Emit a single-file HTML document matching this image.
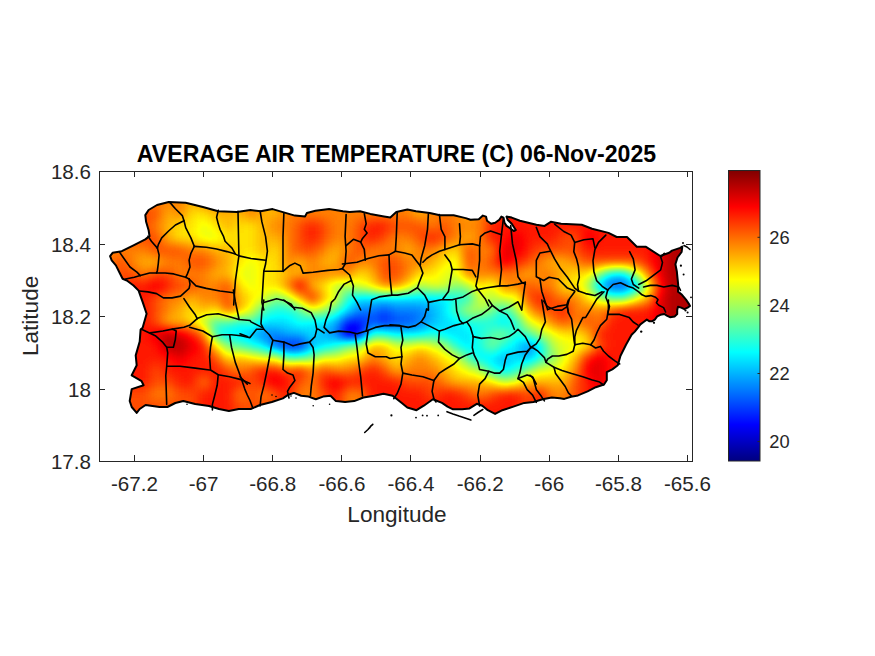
<!DOCTYPE html>
<html><head><meta charset="utf-8"><style>
html,body{margin:0;padding:0;background:#fff;width:875px;height:656px;overflow:hidden}
svg{position:absolute;left:0;top:0;font-family:"Liberation Sans",sans-serif;fill:#262626}
</style></head><body>
<svg width="875" height="656" viewBox="0 0 875 656">
<defs>
<clipPath id="isl"><path d="M145.3,215.1 L148.6,210.0 L157.0,205.0 L168.7,202.0 L185.7,202.7 L202.9,207.0 L218.3,211.3 L237.0,212.0 L250.3,210.1 L260.6,211.3 L272.6,209.1 L282.9,212.1 L294.9,215.6 L305.1,216.4 L306.9,213.0 L315.4,210.8 L329.1,209.1 L342.9,211.3 L349.7,212.1 L360.0,211.3 L370.3,213.9 L384.0,216.4 L390.3,217.6 L396.3,212.1 L407.4,209.6 L416.0,211.3 L429.7,213.0 L440.0,215.2 L453.7,215.2 L465.7,218.1 L470.5,219.7 L478.8,219.3 L482.9,215.6 L486.0,216.6 L487.0,220.7 L491.1,223.8 L495.2,222.8 L499.3,219.7 L501.4,216.6 L503.5,217.6 L504.5,222.8 L506.5,225.9 L509.6,227.9 L513.7,231.0 L515.8,230.0 L511.7,223.8 L507.6,219.7 L506.5,216.6 L511.7,217.6 L519.9,220.7 L528.1,222.8 L536.4,224.8 L544.6,225.9 L550.8,221.8 L561.1,223.7 L581.7,224.7 L592.0,228.8 L608.5,232.9 L616.7,237.0 L627.0,237.0 L636.8,246.8 L646.0,246.8 L660.3,256.0 L669.2,252.7 L672.0,250.6 L680.2,247.9 L682.3,246.5 L681.6,252.0 L677.5,257.5 L675.4,264.3 L676.8,271.2 L677.5,278.1 L678.2,284.9 L678.0,291.6 L682.0,294.8 L686.0,299.6 L689.2,304.4 L690.0,306.0 L687.6,307.6 L684.4,309.2 L681.2,307.6 L678.0,306.8 L677.2,310.0 L677.2,314.0 L674.8,316.4 L670.0,317.2 L666.8,315.6 L664.4,314.0 L660.4,314.8 L657.2,316.4 L654.8,319.6 L652.4,321.2 L649.2,321.2 L646.8,319.6 L643.6,322.0 L640.4,324.4 L638.0,327.6 L634.8,331.6 L631.6,334.8 L626.0,344.7 L620.5,355.7 L617.8,365.3 L612.3,369.4 L606.8,372.1 L606.8,380.3 L604.0,384.5 L595.8,387.2 L587.6,391.3 L578.0,395.4 L571.1,396.8 L564.3,398.9 L560.0,398.3 L551.8,397.4 L542.6,399.3 L533.5,402.0 L524.3,402.9 L513.4,406.6 L502.4,410.2 L495.1,413.9 L487.8,410.2 L482.3,405.7 L476.8,403.8 L469.5,408.4 L462.2,409.3 L453.0,409.3 L447.5,406.6 L442.0,402.9 L432.9,399.3 L423.8,405.7 L416.5,410.2 L407.3,407.5 L401.8,403.0 L392.6,395.7 L383.5,393.8 L374.3,395.7 L363.4,397.5 L354.2,401.1 L345.1,402.0 L335.9,401.1 L330.5,395.7 L323.1,396.6 L315.8,399.3 L308.5,396.6 L301.2,395.7 L293.9,392.9 L288.4,394.7 L282.9,398.4 L271.9,402.0 L260.0,405.0 L250.7,409.0 L238.8,409.0 L228.9,411.0 L219.0,409.0 L209.0,406.0 L195.2,404.0 L183.3,401.0 L175.3,403.0 L167.4,407.0 L159.5,407.0 L145.6,405.0 L139.7,409.0 L136.7,412.9 L131.7,407.0 L129.7,401.0 L131.7,389.1 L143.6,385.2 L141.6,381.2 L131.7,375.3 L136.7,365.3 L135.7,355.4 L139.7,341.5 L140.6,329.7 L142.6,327.7 L146.6,313.8 L142.6,301.9 L138.6,290.6 L133.5,285.5 L126.8,280.5 L122.6,278.8 L120.1,273.8 L115.9,265.4 L111.7,260.4 L110.1,256.2 L112.6,252.8 L121.8,251.2 L133.5,245.3 L145.3,239.4 L149.5,236.1 L148.6,230.2 L146.1,221.8 Z"/></clipPath>
<filter id="jet" x="0" y="0" width="875" height="656" filterUnits="userSpaceOnUse" color-interpolation-filters="sRGB">
<feGaussianBlur stdDeviation="6"/>
<feComponentTransfer><feFuncR type="table" tableValues="0.000 0.000 0.000 0.000 0.000 0.000 0.000 0.000 0.000 0.000 0.000 0.000 0.000 0.000 0.000 0.000 0.000 0.000 0.000 0.000 0.000 0.000 0.000 0.000 0.000 0.000 0.000 0.000 0.000 0.000 0.000 0.000 0.000 0.000 0.000 0.000 0.000 0.000 0.000 0.000 0.000 0.000 0.000 0.000 0.000 0.000 0.000 0.000 0.000 0.000 0.000 0.000 0.000 0.000 0.000 0.000 0.000 0.000 0.000 0.000 0.000 0.000 0.000 0.000 0.000 0.000 0.000 0.000 0.000 0.000 0.000 0.000 0.000 0.000 0.000 0.000 0.000 0.000 0.000 0.000 0.000 0.000 0.000 0.000 0.000 0.000 0.000 0.000 0.000 0.000 0.000 0.000 0.000 0.000 0.000 0.000 0.006 0.022 0.037 0.053 0.069 0.084 0.100 0.116 0.131 0.147 0.163 0.178 0.194 0.210 0.225 0.241 0.257 0.273 0.288 0.304 0.320 0.335 0.351 0.367 0.382 0.398 0.414 0.429 0.445 0.461 0.476 0.492 0.508 0.524 0.539 0.555 0.571 0.586 0.602 0.618 0.633 0.649 0.665 0.680 0.696 0.712 0.727 0.743 0.759 0.775 0.790 0.806 0.822 0.837 0.853 0.869 0.884 0.900 0.916 0.931 0.947 0.963 0.978 0.994 1.000 1.000 1.000 1.000 1.000 1.000 1.000 1.000 1.000 1.000 1.000 1.000 1.000 1.000 1.000 1.000 1.000 1.000 1.000 1.000 1.000 1.000 1.000 1.000 1.000 1.000 1.000 1.000 1.000 1.000 1.000 1.000 1.000 1.000 1.000 1.000 1.000 1.000 1.000 1.000 1.000 1.000 1.000 1.000 1.000 1.000 1.000 1.000 1.000 1.000 1.000 1.000 1.000 1.000 1.000 1.000 1.000 1.000 1.000 1.000 1.000 1.000 1.000 1.000 0.986 0.971 0.955 0.939 0.924 0.908 0.892 0.876 0.861 0.845 0.829 0.814 0.798 0.782 0.767 0.751 0.735 0.720 0.704 0.688 0.673 0.657 0.641 0.625 0.610 0.594 0.578 0.563 0.547 0.531 0.516 0.500"/><feFuncG type="table" tableValues="0.000 0.000 0.000 0.000 0.000 0.000 0.000 0.000 0.000 0.000 0.000 0.000 0.000 0.000 0.000 0.000 0.000 0.000 0.000 0.000 0.000 0.000 0.000 0.000 0.000 0.000 0.000 0.000 0.000 0.000 0.000 0.000 0.002 0.018 0.033 0.049 0.065 0.080 0.096 0.112 0.127 0.143 0.159 0.175 0.190 0.206 0.222 0.237 0.253 0.269 0.284 0.300 0.316 0.331 0.347 0.363 0.378 0.394 0.410 0.425 0.441 0.457 0.473 0.488 0.504 0.520 0.535 0.551 0.567 0.582 0.598 0.614 0.629 0.645 0.661 0.676 0.692 0.708 0.724 0.739 0.755 0.771 0.786 0.802 0.818 0.833 0.849 0.865 0.880 0.896 0.912 0.927 0.943 0.959 0.975 0.990 1.000 1.000 1.000 1.000 1.000 1.000 1.000 1.000 1.000 1.000 1.000 1.000 1.000 1.000 1.000 1.000 1.000 1.000 1.000 1.000 1.000 1.000 1.000 1.000 1.000 1.000 1.000 1.000 1.000 1.000 1.000 1.000 1.000 1.000 1.000 1.000 1.000 1.000 1.000 1.000 1.000 1.000 1.000 1.000 1.000 1.000 1.000 1.000 1.000 1.000 1.000 1.000 1.000 1.000 1.000 1.000 1.000 1.000 1.000 1.000 1.000 1.000 1.000 1.000 0.990 0.975 0.959 0.943 0.927 0.912 0.896 0.880 0.865 0.849 0.833 0.818 0.802 0.786 0.771 0.755 0.739 0.724 0.708 0.692 0.676 0.661 0.645 0.629 0.614 0.598 0.582 0.567 0.551 0.535 0.520 0.504 0.488 0.473 0.457 0.441 0.425 0.410 0.394 0.378 0.363 0.347 0.331 0.316 0.300 0.284 0.269 0.253 0.237 0.222 0.206 0.190 0.175 0.159 0.143 0.127 0.112 0.096 0.080 0.065 0.049 0.033 0.018 0.002 0.000 0.000 0.000 0.000 0.000 0.000 0.000 0.000 0.000 0.000 0.000 0.000 0.000 0.000 0.000 0.000 0.000 0.000 0.000 0.000 0.000 0.000 0.000 0.000 0.000 0.000 0.000 0.000 0.000 0.000 0.000 0.000"/><feFuncB type="table" tableValues="0.500 0.516 0.531 0.547 0.563 0.578 0.594 0.610 0.625 0.641 0.657 0.673 0.688 0.704 0.720 0.735 0.751 0.767 0.782 0.798 0.814 0.829 0.845 0.861 0.876 0.892 0.908 0.924 0.939 0.955 0.971 0.986 1.000 1.000 1.000 1.000 1.000 1.000 1.000 1.000 1.000 1.000 1.000 1.000 1.000 1.000 1.000 1.000 1.000 1.000 1.000 1.000 1.000 1.000 1.000 1.000 1.000 1.000 1.000 1.000 1.000 1.000 1.000 1.000 1.000 1.000 1.000 1.000 1.000 1.000 1.000 1.000 1.000 1.000 1.000 1.000 1.000 1.000 1.000 1.000 1.000 1.000 1.000 1.000 1.000 1.000 1.000 1.000 1.000 1.000 1.000 1.000 1.000 1.000 1.000 1.000 0.994 0.978 0.963 0.947 0.931 0.916 0.900 0.884 0.869 0.853 0.837 0.822 0.806 0.790 0.775 0.759 0.743 0.727 0.712 0.696 0.680 0.665 0.649 0.633 0.618 0.602 0.586 0.571 0.555 0.539 0.524 0.508 0.492 0.476 0.461 0.445 0.429 0.414 0.398 0.382 0.367 0.351 0.335 0.320 0.304 0.288 0.273 0.257 0.241 0.225 0.210 0.194 0.178 0.163 0.147 0.131 0.116 0.100 0.084 0.069 0.053 0.037 0.022 0.006 0.000 0.000 0.000 0.000 0.000 0.000 0.000 0.000 0.000 0.000 0.000 0.000 0.000 0.000 0.000 0.000 0.000 0.000 0.000 0.000 0.000 0.000 0.000 0.000 0.000 0.000 0.000 0.000 0.000 0.000 0.000 0.000 0.000 0.000 0.000 0.000 0.000 0.000 0.000 0.000 0.000 0.000 0.000 0.000 0.000 0.000 0.000 0.000 0.000 0.000 0.000 0.000 0.000 0.000 0.000 0.000 0.000 0.000 0.000 0.000 0.000 0.000 0.000 0.000 0.000 0.000 0.000 0.000 0.000 0.000 0.000 0.000 0.000 0.000 0.000 0.000 0.000 0.000 0.000 0.000 0.000 0.000 0.000 0.000 0.000 0.000 0.000 0.000 0.000 0.000 0.000 0.000 0.000 0.000 0.000 0.000"/><feFuncA type="identity"/></feComponentTransfer>
</filter>
<linearGradient id="cb" x1="0" y1="0" x2="0" y2="1"><stop offset="0.0000" stop-color="rgb(128,0,0)"/><stop offset="0.0156" stop-color="rgb(143,0,0)"/><stop offset="0.0312" stop-color="rgb(159,0,0)"/><stop offset="0.0469" stop-color="rgb(175,0,0)"/><stop offset="0.0625" stop-color="rgb(191,0,0)"/><stop offset="0.0781" stop-color="rgb(207,0,0)"/><stop offset="0.0938" stop-color="rgb(223,0,0)"/><stop offset="0.1094" stop-color="rgb(239,0,0)"/><stop offset="0.1250" stop-color="rgb(255,0,0)"/><stop offset="0.1406" stop-color="rgb(255,16,0)"/><stop offset="0.1562" stop-color="rgb(255,32,0)"/><stop offset="0.1719" stop-color="rgb(255,48,0)"/><stop offset="0.1875" stop-color="rgb(255,64,0)"/><stop offset="0.2031" stop-color="rgb(255,80,0)"/><stop offset="0.2188" stop-color="rgb(255,96,0)"/><stop offset="0.2344" stop-color="rgb(255,112,0)"/><stop offset="0.2500" stop-color="rgb(255,128,0)"/><stop offset="0.2656" stop-color="rgb(255,143,0)"/><stop offset="0.2812" stop-color="rgb(255,159,0)"/><stop offset="0.2969" stop-color="rgb(255,175,0)"/><stop offset="0.3125" stop-color="rgb(255,191,0)"/><stop offset="0.3281" stop-color="rgb(255,207,0)"/><stop offset="0.3438" stop-color="rgb(255,223,0)"/><stop offset="0.3594" stop-color="rgb(255,239,0)"/><stop offset="0.3750" stop-color="rgb(255,255,0)"/><stop offset="0.3906" stop-color="rgb(239,255,16)"/><stop offset="0.4062" stop-color="rgb(223,255,32)"/><stop offset="0.4219" stop-color="rgb(207,255,48)"/><stop offset="0.4375" stop-color="rgb(191,255,64)"/><stop offset="0.4531" stop-color="rgb(175,255,80)"/><stop offset="0.4688" stop-color="rgb(159,255,96)"/><stop offset="0.4844" stop-color="rgb(143,255,112)"/><stop offset="0.5000" stop-color="rgb(128,255,128)"/><stop offset="0.5156" stop-color="rgb(112,255,143)"/><stop offset="0.5312" stop-color="rgb(96,255,159)"/><stop offset="0.5469" stop-color="rgb(80,255,175)"/><stop offset="0.5625" stop-color="rgb(64,255,191)"/><stop offset="0.5781" stop-color="rgb(48,255,207)"/><stop offset="0.5938" stop-color="rgb(32,255,223)"/><stop offset="0.6094" stop-color="rgb(16,255,239)"/><stop offset="0.6250" stop-color="rgb(0,255,255)"/><stop offset="0.6406" stop-color="rgb(0,239,255)"/><stop offset="0.6562" stop-color="rgb(0,223,255)"/><stop offset="0.6719" stop-color="rgb(0,207,255)"/><stop offset="0.6875" stop-color="rgb(0,191,255)"/><stop offset="0.7031" stop-color="rgb(0,175,255)"/><stop offset="0.7188" stop-color="rgb(0,159,255)"/><stop offset="0.7344" stop-color="rgb(0,143,255)"/><stop offset="0.7500" stop-color="rgb(0,128,255)"/><stop offset="0.7656" stop-color="rgb(0,112,255)"/><stop offset="0.7812" stop-color="rgb(0,96,255)"/><stop offset="0.7969" stop-color="rgb(0,80,255)"/><stop offset="0.8125" stop-color="rgb(0,64,255)"/><stop offset="0.8281" stop-color="rgb(0,48,255)"/><stop offset="0.8438" stop-color="rgb(0,32,255)"/><stop offset="0.8594" stop-color="rgb(0,16,255)"/><stop offset="0.8750" stop-color="rgb(0,0,255)"/><stop offset="0.8906" stop-color="rgb(0,0,239)"/><stop offset="0.9062" stop-color="rgb(0,0,223)"/><stop offset="0.9219" stop-color="rgb(0,0,207)"/><stop offset="0.9375" stop-color="rgb(0,0,191)"/><stop offset="0.9531" stop-color="rgb(0,0,175)"/><stop offset="0.9688" stop-color="rgb(0,0,159)"/><stop offset="0.9844" stop-color="rgb(0,0,143)"/><stop offset="1.0000" stop-color="rgb(0,0,128)"/></linearGradient>
</defs>
<g clip-path="url(#isl)"><g filter="url(#jet)"><rect x="78" y="172" width="60" height="12" fill="rgb(204,204,204)"/><rect x="138" y="172" width="48" height="12" fill="rgb(191,191,191)"/><rect x="186" y="172" width="12" height="12" fill="rgb(178,178,178)"/><rect x="198" y="172" width="36" height="12" fill="rgb(191,191,191)"/><rect x="234" y="172" width="12" height="12" fill="rgb(178,178,178)"/><rect x="246" y="172" width="12" height="12" fill="rgb(191,191,191)"/><rect x="258" y="172" width="24" height="12" fill="rgb(178,178,178)"/><rect x="282" y="172" width="132" height="12" fill="rgb(191,191,191)"/><rect x="414" y="172" width="12" height="12" fill="rgb(178,178,178)"/><rect x="426" y="172" width="36" height="12" fill="rgb(191,191,191)"/><rect x="462" y="172" width="12" height="12" fill="rgb(178,178,178)"/><rect x="474" y="172" width="12" height="12" fill="rgb(191,191,191)"/><rect x="486" y="172" width="12" height="12" fill="rgb(204,204,204)"/><rect x="498" y="172" width="168" height="12" fill="rgb(217,217,217)"/><rect x="666" y="172" width="60" height="12" fill="rgb(242,242,242)"/><rect x="78" y="184" width="60" height="12" fill="rgb(204,204,204)"/><rect x="138" y="184" width="48" height="12" fill="rgb(191,191,191)"/><rect x="186" y="184" width="12" height="12" fill="rgb(178,178,178)"/><rect x="198" y="184" width="36" height="12" fill="rgb(191,191,191)"/><rect x="234" y="184" width="12" height="12" fill="rgb(178,178,178)"/><rect x="246" y="184" width="12" height="12" fill="rgb(191,191,191)"/><rect x="258" y="184" width="24" height="12" fill="rgb(178,178,178)"/><rect x="282" y="184" width="132" height="12" fill="rgb(191,191,191)"/><rect x="414" y="184" width="12" height="12" fill="rgb(178,178,178)"/><rect x="426" y="184" width="36" height="12" fill="rgb(191,191,191)"/><rect x="462" y="184" width="12" height="12" fill="rgb(178,178,178)"/><rect x="474" y="184" width="12" height="12" fill="rgb(191,191,191)"/><rect x="486" y="184" width="12" height="12" fill="rgb(204,204,204)"/><rect x="498" y="184" width="168" height="12" fill="rgb(217,217,217)"/><rect x="666" y="184" width="60" height="12" fill="rgb(242,242,242)"/><rect x="78" y="196" width="60" height="12" fill="rgb(204,204,204)"/><rect x="138" y="196" width="48" height="12" fill="rgb(191,191,191)"/><rect x="186" y="196" width="12" height="12" fill="rgb(178,178,178)"/><rect x="198" y="196" width="36" height="12" fill="rgb(191,191,191)"/><rect x="234" y="196" width="12" height="12" fill="rgb(178,178,178)"/><rect x="246" y="196" width="12" height="12" fill="rgb(191,191,191)"/><rect x="258" y="196" width="24" height="12" fill="rgb(178,178,178)"/><rect x="282" y="196" width="132" height="12" fill="rgb(191,191,191)"/><rect x="414" y="196" width="12" height="12" fill="rgb(178,178,178)"/><rect x="426" y="196" width="36" height="12" fill="rgb(191,191,191)"/><rect x="462" y="196" width="12" height="12" fill="rgb(178,178,178)"/><rect x="474" y="196" width="12" height="12" fill="rgb(191,191,191)"/><rect x="486" y="196" width="12" height="12" fill="rgb(204,204,204)"/><rect x="498" y="196" width="168" height="12" fill="rgb(217,217,217)"/><rect x="666" y="196" width="60" height="12" fill="rgb(242,242,242)"/><rect x="78" y="208" width="84" height="12" fill="rgb(204,204,204)"/><rect x="162" y="208" width="12" height="12" fill="rgb(178,178,178)"/><rect x="174" y="208" width="12" height="12" fill="rgb(191,191,191)"/><rect x="186" y="208" width="24" height="12" fill="rgb(166,166,166)"/><rect x="210" y="208" width="36" height="12" fill="rgb(178,178,178)"/><rect x="246" y="208" width="12" height="12" fill="rgb(191,191,191)"/><rect x="258" y="208" width="24" height="12" fill="rgb(178,178,178)"/><rect x="282" y="208" width="132" height="12" fill="rgb(191,191,191)"/><rect x="414" y="208" width="12" height="12" fill="rgb(178,178,178)"/><rect x="426" y="208" width="36" height="12" fill="rgb(191,191,191)"/><rect x="462" y="208" width="12" height="12" fill="rgb(178,178,178)"/><rect x="474" y="208" width="12" height="12" fill="rgb(191,191,191)"/><rect x="486" y="208" width="12" height="12" fill="rgb(204,204,204)"/><rect x="498" y="208" width="168" height="12" fill="rgb(217,217,217)"/><rect x="666" y="208" width="60" height="12" fill="rgb(242,242,242)"/><rect x="78" y="220" width="36" height="12" fill="rgb(191,191,191)"/><rect x="114" y="220" width="36" height="12" fill="rgb(204,204,204)"/><rect x="150" y="220" width="12" height="12" fill="rgb(191,191,191)"/><rect x="162" y="220" width="12" height="12" fill="rgb(178,178,178)"/><rect x="174" y="220" width="24" height="12" fill="rgb(166,166,166)"/><rect x="198" y="220" width="12" height="12" fill="rgb(153,153,153)"/><rect x="210" y="220" width="12" height="12" fill="rgb(166,166,166)"/><rect x="222" y="220" width="12" height="12" fill="rgb(178,178,178)"/><rect x="234" y="220" width="24" height="12" fill="rgb(166,166,166)"/><rect x="258" y="220" width="12" height="12" fill="rgb(178,178,178)"/><rect x="270" y="220" width="24" height="12" fill="rgb(191,191,191)"/><rect x="294" y="220" width="12" height="12" fill="rgb(204,204,204)"/><rect x="306" y="220" width="12" height="12" fill="rgb(217,217,217)"/><rect x="318" y="220" width="12" height="12" fill="rgb(204,204,204)"/><rect x="330" y="220" width="24" height="12" fill="rgb(191,191,191)"/><rect x="354" y="220" width="12" height="12" fill="rgb(204,204,204)"/><rect x="366" y="220" width="24" height="12" fill="rgb(217,217,217)"/><rect x="390" y="220" width="36" height="12" fill="rgb(204,204,204)"/><rect x="426" y="220" width="12" height="12" fill="rgb(191,191,191)"/><rect x="438" y="220" width="12" height="12" fill="rgb(204,204,204)"/><rect x="450" y="220" width="36" height="12" fill="rgb(191,191,191)"/><rect x="486" y="220" width="168" height="12" fill="rgb(217,217,217)"/><rect x="654" y="220" width="12" height="12" fill="rgb(230,230,230)"/><rect x="666" y="220" width="60" height="12" fill="rgb(242,242,242)"/><rect x="78" y="232" width="48" height="12" fill="rgb(191,191,191)"/><rect x="126" y="232" width="36" height="12" fill="rgb(204,204,204)"/><rect x="162" y="232" width="12" height="12" fill="rgb(178,178,178)"/><rect x="174" y="232" width="24" height="12" fill="rgb(166,166,166)"/><rect x="198" y="232" width="24" height="12" fill="rgb(153,153,153)"/><rect x="222" y="232" width="36" height="12" fill="rgb(166,166,166)"/><rect x="258" y="232" width="24" height="12" fill="rgb(178,178,178)"/><rect x="282" y="232" width="12" height="12" fill="rgb(191,191,191)"/><rect x="294" y="232" width="12" height="12" fill="rgb(204,204,204)"/><rect x="306" y="232" width="12" height="12" fill="rgb(217,217,217)"/><rect x="318" y="232" width="12" height="12" fill="rgb(204,204,204)"/><rect x="330" y="232" width="24" height="12" fill="rgb(191,191,191)"/><rect x="354" y="232" width="12" height="12" fill="rgb(204,204,204)"/><rect x="366" y="232" width="12" height="12" fill="rgb(217,217,217)"/><rect x="378" y="232" width="12" height="12" fill="rgb(204,204,204)"/><rect x="390" y="232" width="24" height="12" fill="rgb(191,191,191)"/><rect x="414" y="232" width="12" height="12" fill="rgb(204,204,204)"/><rect x="426" y="232" width="12" height="12" fill="rgb(217,217,217)"/><rect x="438" y="232" width="12" height="12" fill="rgb(204,204,204)"/><rect x="450" y="232" width="12" height="12" fill="rgb(191,191,191)"/><rect x="462" y="232" width="12" height="12" fill="rgb(178,178,178)"/><rect x="474" y="232" width="12" height="12" fill="rgb(191,191,191)"/><rect x="486" y="232" width="24" height="12" fill="rgb(217,217,217)"/><rect x="510" y="232" width="12" height="12" fill="rgb(230,230,230)"/><rect x="522" y="232" width="36" height="12" fill="rgb(217,217,217)"/><rect x="558" y="232" width="24" height="12" fill="rgb(204,204,204)"/><rect x="582" y="232" width="12" height="12" fill="rgb(230,230,230)"/><rect x="594" y="232" width="60" height="12" fill="rgb(217,217,217)"/><rect x="654" y="232" width="12" height="12" fill="rgb(230,230,230)"/><rect x="666" y="232" width="60" height="12" fill="rgb(242,242,242)"/><rect x="78" y="244" width="72" height="12" fill="rgb(191,191,191)"/><rect x="150" y="244" width="36" height="12" fill="rgb(204,204,204)"/><rect x="186" y="244" width="24" height="12" fill="rgb(191,191,191)"/><rect x="210" y="244" width="24" height="12" fill="rgb(178,178,178)"/><rect x="234" y="244" width="24" height="12" fill="rgb(166,166,166)"/><rect x="258" y="244" width="12" height="12" fill="rgb(178,178,178)"/><rect x="270" y="244" width="12" height="12" fill="rgb(166,166,166)"/><rect x="282" y="244" width="12" height="12" fill="rgb(191,191,191)"/><rect x="294" y="244" width="24" height="12" fill="rgb(204,204,204)"/><rect x="318" y="244" width="12" height="12" fill="rgb(191,191,191)"/><rect x="330" y="244" width="12" height="12" fill="rgb(178,178,178)"/><rect x="342" y="244" width="12" height="12" fill="rgb(191,191,191)"/><rect x="354" y="244" width="12" height="12" fill="rgb(204,204,204)"/><rect x="366" y="244" width="36" height="12" fill="rgb(191,191,191)"/><rect x="402" y="244" width="12" height="12" fill="rgb(178,178,178)"/><rect x="414" y="244" width="24" height="12" fill="rgb(191,191,191)"/><rect x="438" y="244" width="12" height="12" fill="rgb(178,178,178)"/><rect x="450" y="244" width="12" height="12" fill="rgb(166,166,166)"/><rect x="462" y="244" width="12" height="12" fill="rgb(204,204,204)"/><rect x="474" y="244" width="24" height="12" fill="rgb(191,191,191)"/><rect x="498" y="244" width="24" height="12" fill="rgb(230,230,230)"/><rect x="522" y="244" width="12" height="12" fill="rgb(217,217,217)"/><rect x="534" y="244" width="48" height="12" fill="rgb(204,204,204)"/><rect x="582" y="244" width="72" height="12" fill="rgb(217,217,217)"/><rect x="654" y="244" width="12" height="12" fill="rgb(230,230,230)"/><rect x="666" y="244" width="60" height="12" fill="rgb(242,242,242)"/><rect x="78" y="256" width="36" height="12" fill="rgb(191,191,191)"/><rect x="114" y="256" width="12" height="12" fill="rgb(204,204,204)"/><rect x="126" y="256" width="12" height="12" fill="rgb(191,191,191)"/><rect x="138" y="256" width="24" height="12" fill="rgb(178,178,178)"/><rect x="162" y="256" width="24" height="12" fill="rgb(191,191,191)"/><rect x="186" y="256" width="24" height="12" fill="rgb(204,204,204)"/><rect x="210" y="256" width="12" height="12" fill="rgb(191,191,191)"/><rect x="222" y="256" width="12" height="12" fill="rgb(178,178,178)"/><rect x="234" y="256" width="12" height="12" fill="rgb(166,166,166)"/><rect x="246" y="256" width="12" height="12" fill="rgb(153,153,153)"/><rect x="258" y="256" width="24" height="12" fill="rgb(166,166,166)"/><rect x="282" y="256" width="12" height="12" fill="rgb(191,191,191)"/><rect x="294" y="256" width="12" height="12" fill="rgb(178,178,178)"/><rect x="306" y="256" width="12" height="12" fill="rgb(191,191,191)"/><rect x="318" y="256" width="24" height="12" fill="rgb(178,178,178)"/><rect x="342" y="256" width="12" height="12" fill="rgb(204,204,204)"/><rect x="354" y="256" width="24" height="12" fill="rgb(191,191,191)"/><rect x="378" y="256" width="24" height="12" fill="rgb(204,204,204)"/><rect x="402" y="256" width="24" height="12" fill="rgb(191,191,191)"/><rect x="426" y="256" width="12" height="12" fill="rgb(178,178,178)"/><rect x="438" y="256" width="12" height="12" fill="rgb(166,166,166)"/><rect x="450" y="256" width="12" height="12" fill="rgb(153,153,153)"/><rect x="462" y="256" width="12" height="12" fill="rgb(204,204,204)"/><rect x="474" y="256" width="12" height="12" fill="rgb(191,191,191)"/><rect x="486" y="256" width="12" height="12" fill="rgb(204,204,204)"/><rect x="498" y="256" width="12" height="12" fill="rgb(230,230,230)"/><rect x="510" y="256" width="12" height="12" fill="rgb(217,217,217)"/><rect x="522" y="256" width="12" height="12" fill="rgb(204,204,204)"/><rect x="534" y="256" width="12" height="12" fill="rgb(191,191,191)"/><rect x="546" y="256" width="24" height="12" fill="rgb(178,178,178)"/><rect x="570" y="256" width="12" height="12" fill="rgb(191,191,191)"/><rect x="582" y="256" width="60" height="12" fill="rgb(204,204,204)"/><rect x="642" y="256" width="12" height="12" fill="rgb(217,217,217)"/><rect x="654" y="256" width="12" height="12" fill="rgb(230,230,230)"/><rect x="666" y="256" width="60" height="12" fill="rgb(242,242,242)"/><rect x="78" y="268" width="36" height="12" fill="rgb(191,191,191)"/><rect x="114" y="268" width="24" height="12" fill="rgb(204,204,204)"/><rect x="138" y="268" width="12" height="12" fill="rgb(191,191,191)"/><rect x="150" y="268" width="24" height="12" fill="rgb(204,204,204)"/><rect x="174" y="268" width="36" height="12" fill="rgb(191,191,191)"/><rect x="210" y="268" width="24" height="12" fill="rgb(178,178,178)"/><rect x="234" y="268" width="24" height="12" fill="rgb(153,153,153)"/><rect x="258" y="268" width="24" height="12" fill="rgb(166,166,166)"/><rect x="282" y="268" width="24" height="12" fill="rgb(178,178,178)"/><rect x="306" y="268" width="48" height="12" fill="rgb(191,191,191)"/><rect x="354" y="268" width="12" height="12" fill="rgb(166,166,166)"/><rect x="366" y="268" width="12" height="12" fill="rgb(178,178,178)"/><rect x="378" y="268" width="24" height="12" fill="rgb(204,204,204)"/><rect x="402" y="268" width="12" height="12" fill="rgb(191,191,191)"/><rect x="414" y="268" width="24" height="12" fill="rgb(166,166,166)"/><rect x="438" y="268" width="24" height="12" fill="rgb(153,153,153)"/><rect x="462" y="268" width="60" height="12" fill="rgb(191,191,191)"/><rect x="522" y="268" width="12" height="12" fill="rgb(178,178,178)"/><rect x="534" y="268" width="24" height="12" fill="rgb(191,191,191)"/><rect x="558" y="268" width="12" height="12" fill="rgb(178,178,178)"/><rect x="570" y="268" width="24" height="12" fill="rgb(166,166,166)"/><rect x="594" y="268" width="12" height="12" fill="rgb(128,128,128)"/><rect x="606" y="268" width="24" height="12" fill="rgb(89,89,89)"/><rect x="630" y="268" width="12" height="12" fill="rgb(140,140,140)"/><rect x="642" y="268" width="12" height="12" fill="rgb(191,191,191)"/><rect x="654" y="268" width="12" height="12" fill="rgb(230,230,230)"/><rect x="666" y="268" width="60" height="12" fill="rgb(242,242,242)"/><rect x="78" y="280" width="48" height="12" fill="rgb(204,204,204)"/><rect x="126" y="280" width="24" height="12" fill="rgb(217,217,217)"/><rect x="150" y="280" width="12" height="12" fill="rgb(230,230,230)"/><rect x="162" y="280" width="12" height="12" fill="rgb(217,217,217)"/><rect x="174" y="280" width="24" height="12" fill="rgb(204,204,204)"/><rect x="198" y="280" width="24" height="12" fill="rgb(191,191,191)"/><rect x="222" y="280" width="12" height="12" fill="rgb(204,204,204)"/><rect x="234" y="280" width="12" height="12" fill="rgb(166,166,166)"/><rect x="246" y="280" width="12" height="12" fill="rgb(153,153,153)"/><rect x="258" y="280" width="24" height="12" fill="rgb(166,166,166)"/><rect x="282" y="280" width="12" height="12" fill="rgb(191,191,191)"/><rect x="294" y="280" width="12" height="12" fill="rgb(230,230,230)"/><rect x="306" y="280" width="12" height="12" fill="rgb(178,178,178)"/><rect x="318" y="280" width="12" height="12" fill="rgb(166,166,166)"/><rect x="330" y="280" width="24" height="12" fill="rgb(140,140,140)"/><rect x="354" y="280" width="12" height="12" fill="rgb(153,153,153)"/><rect x="366" y="280" width="12" height="12" fill="rgb(166,166,166)"/><rect x="378" y="280" width="24" height="12" fill="rgb(191,191,191)"/><rect x="402" y="280" width="12" height="12" fill="rgb(166,166,166)"/><rect x="414" y="280" width="12" height="12" fill="rgb(140,140,140)"/><rect x="426" y="280" width="24" height="12" fill="rgb(153,153,153)"/><rect x="450" y="280" width="12" height="12" fill="rgb(128,128,128)"/><rect x="462" y="280" width="12" height="12" fill="rgb(140,140,140)"/><rect x="474" y="280" width="12" height="12" fill="rgb(166,166,166)"/><rect x="486" y="280" width="12" height="12" fill="rgb(153,153,153)"/><rect x="498" y="280" width="24" height="12" fill="rgb(191,191,191)"/><rect x="522" y="280" width="12" height="12" fill="rgb(204,204,204)"/><rect x="534" y="280" width="24" height="12" fill="rgb(191,191,191)"/><rect x="558" y="280" width="24" height="12" fill="rgb(166,166,166)"/><rect x="582" y="280" width="12" height="12" fill="rgb(140,140,140)"/><rect x="594" y="280" width="12" height="12" fill="rgb(76,76,76)"/><rect x="606" y="280" width="24" height="12" fill="rgb(51,51,51)"/><rect x="630" y="280" width="12" height="12" fill="rgb(76,76,76)"/><rect x="642" y="280" width="12" height="12" fill="rgb(153,153,153)"/><rect x="654" y="280" width="12" height="12" fill="rgb(217,217,217)"/><rect x="666" y="280" width="60" height="12" fill="rgb(242,242,242)"/><rect x="78" y="292" width="36" height="12" fill="rgb(204,204,204)"/><rect x="114" y="292" width="36" height="12" fill="rgb(217,217,217)"/><rect x="150" y="292" width="12" height="12" fill="rgb(204,204,204)"/><rect x="162" y="292" width="24" height="12" fill="rgb(191,191,191)"/><rect x="186" y="292" width="12" height="12" fill="rgb(178,178,178)"/><rect x="198" y="292" width="24" height="12" fill="rgb(191,191,191)"/><rect x="222" y="292" width="12" height="12" fill="rgb(204,204,204)"/><rect x="234" y="292" width="12" height="12" fill="rgb(178,178,178)"/><rect x="246" y="292" width="12" height="12" fill="rgb(166,166,166)"/><rect x="258" y="292" width="12" height="12" fill="rgb(153,153,153)"/><rect x="270" y="292" width="12" height="12" fill="rgb(128,128,128)"/><rect x="282" y="292" width="12" height="12" fill="rgb(140,140,140)"/><rect x="294" y="292" width="12" height="12" fill="rgb(178,178,178)"/><rect x="306" y="292" width="12" height="12" fill="rgb(217,217,217)"/><rect x="318" y="292" width="12" height="12" fill="rgb(178,178,178)"/><rect x="330" y="292" width="12" height="12" fill="rgb(153,153,153)"/><rect x="342" y="292" width="12" height="12" fill="rgb(102,102,102)"/><rect x="354" y="292" width="96" height="12" fill="rgb(89,89,89)"/><rect x="450" y="292" width="24" height="12" fill="rgb(102,102,102)"/><rect x="474" y="292" width="12" height="12" fill="rgb(153,153,153)"/><rect x="486" y="292" width="12" height="12" fill="rgb(140,140,140)"/><rect x="498" y="292" width="24" height="12" fill="rgb(153,153,153)"/><rect x="522" y="292" width="12" height="12" fill="rgb(204,204,204)"/><rect x="534" y="292" width="12" height="12" fill="rgb(217,217,217)"/><rect x="546" y="292" width="12" height="12" fill="rgb(204,204,204)"/><rect x="558" y="292" width="24" height="12" fill="rgb(191,191,191)"/><rect x="582" y="292" width="12" height="12" fill="rgb(166,166,166)"/><rect x="594" y="292" width="12" height="12" fill="rgb(140,140,140)"/><rect x="606" y="292" width="24" height="12" fill="rgb(115,115,115)"/><rect x="630" y="292" width="12" height="12" fill="rgb(153,153,153)"/><rect x="642" y="292" width="12" height="12" fill="rgb(178,178,178)"/><rect x="654" y="292" width="12" height="12" fill="rgb(230,230,230)"/><rect x="666" y="292" width="60" height="12" fill="rgb(242,242,242)"/><rect x="78" y="304" width="72" height="12" fill="rgb(217,217,217)"/><rect x="150" y="304" width="12" height="12" fill="rgb(204,204,204)"/><rect x="162" y="304" width="12" height="12" fill="rgb(191,191,191)"/><rect x="174" y="304" width="12" height="12" fill="rgb(178,178,178)"/><rect x="186" y="304" width="12" height="12" fill="rgb(166,166,166)"/><rect x="198" y="304" width="12" height="12" fill="rgb(178,178,178)"/><rect x="210" y="304" width="12" height="12" fill="rgb(166,166,166)"/><rect x="222" y="304" width="12" height="12" fill="rgb(204,204,204)"/><rect x="234" y="304" width="12" height="12" fill="rgb(178,178,178)"/><rect x="246" y="304" width="12" height="12" fill="rgb(153,153,153)"/><rect x="258" y="304" width="12" height="12" fill="rgb(115,115,115)"/><rect x="270" y="304" width="24" height="12" fill="rgb(102,102,102)"/><rect x="294" y="304" width="12" height="12" fill="rgb(115,115,115)"/><rect x="306" y="304" width="12" height="12" fill="rgb(153,153,153)"/><rect x="318" y="304" width="12" height="12" fill="rgb(140,140,140)"/><rect x="330" y="304" width="12" height="12" fill="rgb(115,115,115)"/><rect x="342" y="304" width="12" height="12" fill="rgb(89,89,89)"/><rect x="354" y="304" width="24" height="12" fill="rgb(64,64,64)"/><rect x="378" y="304" width="12" height="12" fill="rgb(51,51,51)"/><rect x="390" y="304" width="36" height="12" fill="rgb(64,64,64)"/><rect x="426" y="304" width="12" height="12" fill="rgb(76,76,76)"/><rect x="438" y="304" width="12" height="12" fill="rgb(89,89,89)"/><rect x="450" y="304" width="12" height="12" fill="rgb(115,115,115)"/><rect x="462" y="304" width="24" height="12" fill="rgb(140,140,140)"/><rect x="486" y="304" width="12" height="12" fill="rgb(128,128,128)"/><rect x="498" y="304" width="12" height="12" fill="rgb(102,102,102)"/><rect x="510" y="304" width="12" height="12" fill="rgb(140,140,140)"/><rect x="522" y="304" width="12" height="12" fill="rgb(178,178,178)"/><rect x="534" y="304" width="24" height="12" fill="rgb(204,204,204)"/><rect x="558" y="304" width="12" height="12" fill="rgb(217,217,217)"/><rect x="570" y="304" width="36" height="12" fill="rgb(191,191,191)"/><rect x="606" y="304" width="12" height="12" fill="rgb(204,204,204)"/><rect x="618" y="304" width="36" height="12" fill="rgb(217,217,217)"/><rect x="654" y="304" width="12" height="12" fill="rgb(230,230,230)"/><rect x="666" y="304" width="60" height="12" fill="rgb(242,242,242)"/><rect x="78" y="316" width="72" height="12" fill="rgb(217,217,217)"/><rect x="150" y="316" width="12" height="12" fill="rgb(204,204,204)"/><rect x="162" y="316" width="24" height="12" fill="rgb(178,178,178)"/><rect x="186" y="316" width="12" height="12" fill="rgb(166,166,166)"/><rect x="198" y="316" width="12" height="12" fill="rgb(140,140,140)"/><rect x="210" y="316" width="24" height="12" fill="rgb(115,115,115)"/><rect x="234" y="316" width="12" height="12" fill="rgb(102,102,102)"/><rect x="246" y="316" width="12" height="12" fill="rgb(115,115,115)"/><rect x="258" y="316" width="36" height="12" fill="rgb(89,89,89)"/><rect x="294" y="316" width="12" height="12" fill="rgb(102,102,102)"/><rect x="306" y="316" width="24" height="12" fill="rgb(89,89,89)"/><rect x="330" y="316" width="12" height="12" fill="rgb(76,76,76)"/><rect x="342" y="316" width="24" height="12" fill="rgb(38,38,38)"/><rect x="366" y="316" width="12" height="12" fill="rgb(51,51,51)"/><rect x="378" y="316" width="12" height="12" fill="rgb(38,38,38)"/><rect x="390" y="316" width="24" height="12" fill="rgb(51,51,51)"/><rect x="414" y="316" width="12" height="12" fill="rgb(64,64,64)"/><rect x="426" y="316" width="12" height="12" fill="rgb(76,76,76)"/><rect x="438" y="316" width="24" height="12" fill="rgb(89,89,89)"/><rect x="462" y="316" width="36" height="12" fill="rgb(102,102,102)"/><rect x="498" y="316" width="12" height="12" fill="rgb(89,89,89)"/><rect x="510" y="316" width="12" height="12" fill="rgb(102,102,102)"/><rect x="522" y="316" width="12" height="12" fill="rgb(153,153,153)"/><rect x="534" y="316" width="12" height="12" fill="rgb(166,166,166)"/><rect x="546" y="316" width="12" height="12" fill="rgb(191,191,191)"/><rect x="558" y="316" width="12" height="12" fill="rgb(204,204,204)"/><rect x="570" y="316" width="12" height="12" fill="rgb(191,191,191)"/><rect x="582" y="316" width="12" height="12" fill="rgb(204,204,204)"/><rect x="594" y="316" width="12" height="12" fill="rgb(191,191,191)"/><rect x="606" y="316" width="48" height="12" fill="rgb(217,217,217)"/><rect x="654" y="316" width="12" height="12" fill="rgb(230,230,230)"/><rect x="666" y="316" width="60" height="12" fill="rgb(242,242,242)"/><rect x="78" y="328" width="72" height="12" fill="rgb(217,217,217)"/><rect x="150" y="328" width="12" height="12" fill="rgb(230,230,230)"/><rect x="162" y="328" width="12" height="12" fill="rgb(242,242,242)"/><rect x="174" y="328" width="12" height="12" fill="rgb(230,230,230)"/><rect x="186" y="328" width="12" height="12" fill="rgb(217,217,217)"/><rect x="198" y="328" width="12" height="12" fill="rgb(191,191,191)"/><rect x="210" y="328" width="12" height="12" fill="rgb(102,102,102)"/><rect x="222" y="328" width="24" height="12" fill="rgb(89,89,89)"/><rect x="246" y="328" width="12" height="12" fill="rgb(76,76,76)"/><rect x="258" y="328" width="24" height="12" fill="rgb(64,64,64)"/><rect x="282" y="328" width="24" height="12" fill="rgb(76,76,76)"/><rect x="306" y="328" width="12" height="12" fill="rgb(89,89,89)"/><rect x="318" y="328" width="12" height="12" fill="rgb(76,76,76)"/><rect x="330" y="328" width="12" height="12" fill="rgb(64,64,64)"/><rect x="342" y="328" width="12" height="12" fill="rgb(13,13,13)"/><rect x="354" y="328" width="12" height="12" fill="rgb(26,26,26)"/><rect x="366" y="328" width="24" height="12" fill="rgb(102,102,102)"/><rect x="390" y="328" width="36" height="12" fill="rgb(89,89,89)"/><rect x="426" y="328" width="12" height="12" fill="rgb(102,102,102)"/><rect x="438" y="328" width="36" height="12" fill="rgb(89,89,89)"/><rect x="474" y="328" width="12" height="12" fill="rgb(102,102,102)"/><rect x="486" y="328" width="12" height="12" fill="rgb(115,115,115)"/><rect x="498" y="328" width="12" height="12" fill="rgb(128,128,128)"/><rect x="510" y="328" width="12" height="12" fill="rgb(102,102,102)"/><rect x="522" y="328" width="12" height="12" fill="rgb(115,115,115)"/><rect x="534" y="328" width="12" height="12" fill="rgb(140,140,140)"/><rect x="546" y="328" width="12" height="12" fill="rgb(153,153,153)"/><rect x="558" y="328" width="24" height="12" fill="rgb(166,166,166)"/><rect x="582" y="328" width="12" height="12" fill="rgb(178,178,178)"/><rect x="594" y="328" width="72" height="12" fill="rgb(217,217,217)"/><rect x="666" y="328" width="60" height="12" fill="rgb(242,242,242)"/><rect x="78" y="340" width="84" height="12" fill="rgb(217,217,217)"/><rect x="162" y="340" width="24" height="12" fill="rgb(242,242,242)"/><rect x="186" y="340" width="12" height="12" fill="rgb(230,230,230)"/><rect x="198" y="340" width="12" height="12" fill="rgb(217,217,217)"/><rect x="210" y="340" width="12" height="12" fill="rgb(166,166,166)"/><rect x="222" y="340" width="12" height="12" fill="rgb(128,128,128)"/><rect x="234" y="340" width="12" height="12" fill="rgb(115,115,115)"/><rect x="246" y="340" width="12" height="12" fill="rgb(102,102,102)"/><rect x="258" y="340" width="12" height="12" fill="rgb(89,89,89)"/><rect x="270" y="340" width="12" height="12" fill="rgb(51,51,51)"/><rect x="282" y="340" width="24" height="12" fill="rgb(38,38,38)"/><rect x="306" y="340" width="12" height="12" fill="rgb(76,76,76)"/><rect x="318" y="340" width="12" height="12" fill="rgb(89,89,89)"/><rect x="330" y="340" width="12" height="12" fill="rgb(102,102,102)"/><rect x="342" y="340" width="12" height="12" fill="rgb(128,128,128)"/><rect x="354" y="340" width="12" height="12" fill="rgb(140,140,140)"/><rect x="366" y="340" width="24" height="12" fill="rgb(178,178,178)"/><rect x="390" y="340" width="24" height="12" fill="rgb(153,153,153)"/><rect x="414" y="340" width="12" height="12" fill="rgb(166,166,166)"/><rect x="426" y="340" width="12" height="12" fill="rgb(153,153,153)"/><rect x="438" y="340" width="12" height="12" fill="rgb(140,140,140)"/><rect x="450" y="340" width="12" height="12" fill="rgb(102,102,102)"/><rect x="462" y="340" width="12" height="12" fill="rgb(89,89,89)"/><rect x="474" y="340" width="12" height="12" fill="rgb(102,102,102)"/><rect x="486" y="340" width="12" height="12" fill="rgb(128,128,128)"/><rect x="498" y="340" width="12" height="12" fill="rgb(102,102,102)"/><rect x="510" y="340" width="12" height="12" fill="rgb(89,89,89)"/><rect x="522" y="340" width="12" height="12" fill="rgb(64,64,64)"/><rect x="534" y="340" width="12" height="12" fill="rgb(89,89,89)"/><rect x="546" y="340" width="12" height="12" fill="rgb(140,140,140)"/><rect x="558" y="340" width="24" height="12" fill="rgb(153,153,153)"/><rect x="582" y="340" width="12" height="12" fill="rgb(166,166,166)"/><rect x="594" y="340" width="12" height="12" fill="rgb(204,204,204)"/><rect x="606" y="340" width="72" height="12" fill="rgb(217,217,217)"/><rect x="678" y="340" width="48" height="12" fill="rgb(242,242,242)"/><rect x="78" y="352" width="96" height="12" fill="rgb(217,217,217)"/><rect x="174" y="352" width="12" height="12" fill="rgb(230,230,230)"/><rect x="186" y="352" width="24" height="12" fill="rgb(217,217,217)"/><rect x="210" y="352" width="12" height="12" fill="rgb(204,204,204)"/><rect x="222" y="352" width="12" height="12" fill="rgb(166,166,166)"/><rect x="234" y="352" width="12" height="12" fill="rgb(178,178,178)"/><rect x="246" y="352" width="12" height="12" fill="rgb(166,166,166)"/><rect x="258" y="352" width="24" height="12" fill="rgb(153,153,153)"/><rect x="282" y="352" width="24" height="12" fill="rgb(115,115,115)"/><rect x="306" y="352" width="12" height="12" fill="rgb(128,128,128)"/><rect x="318" y="352" width="24" height="12" fill="rgb(153,153,153)"/><rect x="342" y="352" width="24" height="12" fill="rgb(166,166,166)"/><rect x="366" y="352" width="12" height="12" fill="rgb(191,191,191)"/><rect x="378" y="352" width="12" height="12" fill="rgb(178,178,178)"/><rect x="390" y="352" width="12" height="12" fill="rgb(166,166,166)"/><rect x="402" y="352" width="12" height="12" fill="rgb(178,178,178)"/><rect x="414" y="352" width="12" height="12" fill="rgb(191,191,191)"/><rect x="426" y="352" width="12" height="12" fill="rgb(178,178,178)"/><rect x="438" y="352" width="12" height="12" fill="rgb(166,166,166)"/><rect x="450" y="352" width="12" height="12" fill="rgb(153,153,153)"/><rect x="462" y="352" width="12" height="12" fill="rgb(115,115,115)"/><rect x="474" y="352" width="24" height="12" fill="rgb(89,89,89)"/><rect x="498" y="352" width="12" height="12" fill="rgb(76,76,76)"/><rect x="510" y="352" width="12" height="12" fill="rgb(89,89,89)"/><rect x="522" y="352" width="12" height="12" fill="rgb(76,76,76)"/><rect x="534" y="352" width="12" height="12" fill="rgb(102,102,102)"/><rect x="546" y="352" width="12" height="12" fill="rgb(128,128,128)"/><rect x="558" y="352" width="12" height="12" fill="rgb(153,153,153)"/><rect x="570" y="352" width="12" height="12" fill="rgb(178,178,178)"/><rect x="582" y="352" width="12" height="12" fill="rgb(217,217,217)"/><rect x="594" y="352" width="12" height="12" fill="rgb(230,230,230)"/><rect x="606" y="352" width="72" height="12" fill="rgb(217,217,217)"/><rect x="678" y="352" width="48" height="12" fill="rgb(242,242,242)"/><rect x="78" y="364" width="72" height="12" fill="rgb(217,217,217)"/><rect x="150" y="364" width="12" height="12" fill="rgb(204,204,204)"/><rect x="162" y="364" width="60" height="12" fill="rgb(217,217,217)"/><rect x="222" y="364" width="12" height="12" fill="rgb(204,204,204)"/><rect x="234" y="364" width="12" height="12" fill="rgb(191,191,191)"/><rect x="246" y="364" width="12" height="12" fill="rgb(204,204,204)"/><rect x="258" y="364" width="24" height="12" fill="rgb(217,217,217)"/><rect x="282" y="364" width="12" height="12" fill="rgb(204,204,204)"/><rect x="294" y="364" width="12" height="12" fill="rgb(217,217,217)"/><rect x="306" y="364" width="12" height="12" fill="rgb(191,191,191)"/><rect x="318" y="364" width="12" height="12" fill="rgb(204,204,204)"/><rect x="330" y="364" width="24" height="12" fill="rgb(191,191,191)"/><rect x="354" y="364" width="12" height="12" fill="rgb(204,204,204)"/><rect x="366" y="364" width="12" height="12" fill="rgb(217,217,217)"/><rect x="378" y="364" width="12" height="12" fill="rgb(204,204,204)"/><rect x="390" y="364" width="12" height="12" fill="rgb(178,178,178)"/><rect x="402" y="364" width="36" height="12" fill="rgb(191,191,191)"/><rect x="438" y="364" width="12" height="12" fill="rgb(178,178,178)"/><rect x="450" y="364" width="12" height="12" fill="rgb(166,166,166)"/><rect x="462" y="364" width="12" height="12" fill="rgb(153,153,153)"/><rect x="474" y="364" width="12" height="12" fill="rgb(140,140,140)"/><rect x="486" y="364" width="12" height="12" fill="rgb(102,102,102)"/><rect x="498" y="364" width="12" height="12" fill="rgb(89,89,89)"/><rect x="510" y="364" width="12" height="12" fill="rgb(102,102,102)"/><rect x="522" y="364" width="12" height="12" fill="rgb(128,128,128)"/><rect x="534" y="364" width="24" height="12" fill="rgb(153,153,153)"/><rect x="558" y="364" width="12" height="12" fill="rgb(166,166,166)"/><rect x="570" y="364" width="12" height="12" fill="rgb(191,191,191)"/><rect x="582" y="364" width="24" height="12" fill="rgb(230,230,230)"/><rect x="606" y="364" width="84" height="12" fill="rgb(217,217,217)"/><rect x="690" y="364" width="36" height="12" fill="rgb(242,242,242)"/><rect x="78" y="376" width="72" height="12" fill="rgb(217,217,217)"/><rect x="150" y="376" width="24" height="12" fill="rgb(204,204,204)"/><rect x="174" y="376" width="24" height="12" fill="rgb(217,217,217)"/><rect x="198" y="376" width="12" height="12" fill="rgb(191,191,191)"/><rect x="210" y="376" width="36" height="12" fill="rgb(217,217,217)"/><rect x="246" y="376" width="12" height="12" fill="rgb(204,204,204)"/><rect x="258" y="376" width="12" height="12" fill="rgb(217,217,217)"/><rect x="270" y="376" width="12" height="12" fill="rgb(230,230,230)"/><rect x="282" y="376" width="12" height="12" fill="rgb(217,217,217)"/><rect x="294" y="376" width="12" height="12" fill="rgb(204,204,204)"/><rect x="306" y="376" width="12" height="12" fill="rgb(191,191,191)"/><rect x="318" y="376" width="12" height="12" fill="rgb(217,217,217)"/><rect x="330" y="376" width="12" height="12" fill="rgb(230,230,230)"/><rect x="342" y="376" width="60" height="12" fill="rgb(217,217,217)"/><rect x="402" y="376" width="36" height="12" fill="rgb(204,204,204)"/><rect x="438" y="376" width="12" height="12" fill="rgb(191,191,191)"/><rect x="450" y="376" width="36" height="12" fill="rgb(178,178,178)"/><rect x="486" y="376" width="12" height="12" fill="rgb(166,166,166)"/><rect x="498" y="376" width="12" height="12" fill="rgb(140,140,140)"/><rect x="510" y="376" width="12" height="12" fill="rgb(153,153,153)"/><rect x="522" y="376" width="48" height="12" fill="rgb(178,178,178)"/><rect x="570" y="376" width="12" height="12" fill="rgb(204,204,204)"/><rect x="582" y="376" width="12" height="12" fill="rgb(217,217,217)"/><rect x="594" y="376" width="12" height="12" fill="rgb(230,230,230)"/><rect x="606" y="376" width="84" height="12" fill="rgb(217,217,217)"/><rect x="690" y="376" width="36" height="12" fill="rgb(242,242,242)"/><rect x="78" y="388" width="72" height="12" fill="rgb(204,204,204)"/><rect x="150" y="388" width="24" height="12" fill="rgb(191,191,191)"/><rect x="174" y="388" width="24" height="12" fill="rgb(204,204,204)"/><rect x="198" y="388" width="36" height="12" fill="rgb(217,217,217)"/><rect x="234" y="388" width="12" height="12" fill="rgb(191,191,191)"/><rect x="246" y="388" width="12" height="12" fill="rgb(204,204,204)"/><rect x="258" y="388" width="12" height="12" fill="rgb(191,191,191)"/><rect x="270" y="388" width="12" height="12" fill="rgb(204,204,204)"/><rect x="282" y="388" width="12" height="12" fill="rgb(217,217,217)"/><rect x="294" y="388" width="24" height="12" fill="rgb(191,191,191)"/><rect x="318" y="388" width="12" height="12" fill="rgb(204,204,204)"/><rect x="330" y="388" width="12" height="12" fill="rgb(217,217,217)"/><rect x="342" y="388" width="24" height="12" fill="rgb(191,191,191)"/><rect x="366" y="388" width="60" height="12" fill="rgb(217,217,217)"/><rect x="426" y="388" width="12" height="12" fill="rgb(204,204,204)"/><rect x="438" y="388" width="24" height="12" fill="rgb(217,217,217)"/><rect x="462" y="388" width="12" height="12" fill="rgb(204,204,204)"/><rect x="474" y="388" width="12" height="12" fill="rgb(191,191,191)"/><rect x="486" y="388" width="12" height="12" fill="rgb(204,204,204)"/><rect x="498" y="388" width="24" height="12" fill="rgb(217,217,217)"/><rect x="522" y="388" width="12" height="12" fill="rgb(204,204,204)"/><rect x="534" y="388" width="12" height="12" fill="rgb(217,217,217)"/><rect x="546" y="388" width="24" height="12" fill="rgb(191,191,191)"/><rect x="570" y="388" width="12" height="12" fill="rgb(204,204,204)"/><rect x="582" y="388" width="12" height="12" fill="rgb(217,217,217)"/><rect x="594" y="388" width="12" height="12" fill="rgb(230,230,230)"/><rect x="606" y="388" width="120" height="12" fill="rgb(217,217,217)"/><rect x="78" y="400" width="120" height="12" fill="rgb(204,204,204)"/><rect x="198" y="400" width="36" height="12" fill="rgb(217,217,217)"/><rect x="234" y="400" width="48" height="12" fill="rgb(204,204,204)"/><rect x="282" y="400" width="12" height="12" fill="rgb(217,217,217)"/><rect x="294" y="400" width="24" height="12" fill="rgb(191,191,191)"/><rect x="318" y="400" width="12" height="12" fill="rgb(204,204,204)"/><rect x="330" y="400" width="12" height="12" fill="rgb(217,217,217)"/><rect x="342" y="400" width="24" height="12" fill="rgb(191,191,191)"/><rect x="366" y="400" width="156" height="12" fill="rgb(217,217,217)"/><rect x="522" y="400" width="12" height="12" fill="rgb(204,204,204)"/><rect x="534" y="400" width="12" height="12" fill="rgb(217,217,217)"/><rect x="546" y="400" width="24" height="12" fill="rgb(191,191,191)"/><rect x="570" y="400" width="12" height="12" fill="rgb(204,204,204)"/><rect x="582" y="400" width="144" height="12" fill="rgb(217,217,217)"/><rect x="78" y="412" width="120" height="12" fill="rgb(204,204,204)"/><rect x="198" y="412" width="36" height="12" fill="rgb(217,217,217)"/><rect x="234" y="412" width="48" height="12" fill="rgb(204,204,204)"/><rect x="282" y="412" width="12" height="12" fill="rgb(217,217,217)"/><rect x="294" y="412" width="24" height="12" fill="rgb(191,191,191)"/><rect x="318" y="412" width="12" height="12" fill="rgb(204,204,204)"/><rect x="330" y="412" width="12" height="12" fill="rgb(217,217,217)"/><rect x="342" y="412" width="24" height="12" fill="rgb(191,191,191)"/><rect x="366" y="412" width="180" height="12" fill="rgb(217,217,217)"/><rect x="546" y="412" width="24" height="12" fill="rgb(191,191,191)"/><rect x="570" y="412" width="12" height="12" fill="rgb(204,204,204)"/><rect x="582" y="412" width="144" height="12" fill="rgb(217,217,217)"/><rect x="78" y="424" width="120" height="12" fill="rgb(204,204,204)"/><rect x="198" y="424" width="36" height="12" fill="rgb(217,217,217)"/><rect x="234" y="424" width="48" height="12" fill="rgb(204,204,204)"/><rect x="282" y="424" width="12" height="12" fill="rgb(217,217,217)"/><rect x="294" y="424" width="24" height="12" fill="rgb(191,191,191)"/><rect x="318" y="424" width="12" height="12" fill="rgb(204,204,204)"/><rect x="330" y="424" width="12" height="12" fill="rgb(217,217,217)"/><rect x="342" y="424" width="24" height="12" fill="rgb(191,191,191)"/><rect x="366" y="424" width="180" height="12" fill="rgb(217,217,217)"/><rect x="546" y="424" width="24" height="12" fill="rgb(191,191,191)"/><rect x="570" y="424" width="12" height="12" fill="rgb(204,204,204)"/><rect x="582" y="424" width="144" height="12" fill="rgb(217,217,217)"/><rect x="78" y="436" width="120" height="12" fill="rgb(204,204,204)"/><rect x="198" y="436" width="36" height="12" fill="rgb(217,217,217)"/><rect x="234" y="436" width="48" height="12" fill="rgb(204,204,204)"/><rect x="282" y="436" width="12" height="12" fill="rgb(217,217,217)"/><rect x="294" y="436" width="24" height="12" fill="rgb(191,191,191)"/><rect x="318" y="436" width="12" height="12" fill="rgb(204,204,204)"/><rect x="330" y="436" width="12" height="12" fill="rgb(217,217,217)"/><rect x="342" y="436" width="24" height="12" fill="rgb(191,191,191)"/><rect x="366" y="436" width="180" height="12" fill="rgb(217,217,217)"/><rect x="546" y="436" width="24" height="12" fill="rgb(191,191,191)"/><rect x="570" y="436" width="12" height="12" fill="rgb(204,204,204)"/><rect x="582" y="436" width="144" height="12" fill="rgb(217,217,217)"/></g></g>
<g fill="none" stroke="#000" stroke-width="1.6" stroke-linejoin="round" stroke-linecap="round"><path d="M169.4,201.9 L175.4,208.7 L182.3,215.6 L184.0,220.7 L185.7,227.6 L190.9,237.9 L194.3,246.4"/><path d="M184.0,220.7 L175.4,225.0 L168.6,231.0 L161.7,237.9 L158.3,244.7 L157.4,248.1"/><path d="M148.0,236.1 L151.4,241.3 L157.4,248.1"/><path d="M119.7,252.4 L125.7,261.0 L130.0,267.0 L136.9,272.1 L140.3,275.6"/><path d="M157.4,248.1 L159.1,255.0 L158.3,263.6 L157.4,270.4 L156.6,273.0"/><path d="M125.7,279.0 L134.3,277.3 L140.3,275.6 L149.7,273.0 L156.6,273.0 L165.1,273.0 L173.7,273.9 L185.7,277.3 L189.1,279.0"/><path d="M194.3,246.4 L190.9,253.3 L189.1,260.1 L190.0,267.0 L187.4,273.9 L185.7,277.3"/><path d="M194.3,246.4 L206.3,247.3 L216.6,249.0 L226.9,251.6 L235.4,254.1 L238.9,255.9"/><path d="M218.3,210.4 L216.6,217.3 L218.3,224.1 L220.0,229.3 L223.4,236.1 L225.1,241.3 L228.6,244.7 L232.0,248.1 L235.4,254.1"/><path d="M238.0,211.3 L238.9,255.9 L237.1,268.7 L235.4,280.7 L234.6,291.0 L233.7,305.0"/><path d="M189.1,279.0 L196.0,285.9 L206.3,288.4 L220.0,291.0 L233.7,292.7"/><path d="M139.4,291.0 L148.0,291.9 L156.6,293.6 L163.4,297.9 L172.0,297.9 L180.6,296.1 L189.1,288.4 L190.0,284.1 L189.1,279.0"/><path d="M183.9,298.6 L189.6,307.2 L195.3,314.8 L197.2,318.6"/><path d="M197.2,318.6 L206.7,314.8 L218.2,313.8 L229.6,316.7 L239.1,319.5 L250.0,320.5 L251.0,321.9 L261.9,327.4"/><path d="M233.4,290.0 L235.3,301.4 L239.1,319.5"/><path d="M141.0,329.0 L155.3,335.7 L162.9,342.4 L166.7,347.2 L167.7,352.9 L166.7,366.2 L165.8,375.8 L166.7,404.4"/><path d="M150.5,332.9 L162.9,331.0 L172.4,329.1 L176.2,331.0 L175.3,339.6 L173.4,347.2 L166.7,347.2"/><path d="M172.4,329.1 L183.9,327.2 L189.6,325.3 L197.2,318.6"/><path d="M189.6,327.2 L202.9,331.0 L212.4,336.7 L222.0,334.8 L231.5,334.8 L241.0,335.7 L250.0,337.6 L256.5,329.3 L263.8,329.3"/><path d="M212.4,336.7 L210.5,347.2 L209.6,356.7 L210.5,370.0 L218.2,374.8 L229.6,376.7 L241.0,379.6 L250.0,383.4"/><path d="M229.6,334.8 L231.5,347.2 L235.3,362.4 L241.0,377.7 L244.8,389.1 L247.3,395.0 L250.0,400.5 L252.8,408.0"/><path d="M166.7,366.2 L180.0,366.2 L195.3,368.1 L209.6,370.0"/><path d="M218.2,374.8 L217.2,385.3 L214.4,396.7 L212.4,404.4 L212.4,410.0"/><path d="M260.1,211.0 L261.9,221.9 L265.6,236.6 L267.4,251.2 L265.6,264.0 L263.8,271.3 L262.9,285.9 L261.9,302.4 L263.8,310.0"/><path d="M283.9,212.8 L283.0,236.6 L283.0,271.3"/><path d="M263.8,271.3 L283.0,271.3"/><path d="M238.9,255.9 L251.0,258.5 L265.6,260.3"/><path d="M283.0,271.3 L289.4,265.8 L294.9,263.1 L300.3,265.8 L303.1,273.1 L313.1,272.2 L327.8,270.4 L338.7,269.5 L342.4,268.6 L349.7,275.0 L351.5,280.5 L353.4,285.9 L352.5,295.1 L357.0,302.4 L360.7,310.0"/><path d="M346.1,214.6 L345.1,236.6 L346.1,251.2 L345.1,264.0 L342.4,268.6"/><path d="M346.1,245.7 L353.4,239.3 L360.7,242.1 L364.3,249.4 L365.3,260.3"/><path d="M364.3,213.7 L366.2,223.8 L364.3,229.3 L367.1,232.9 L362.5,238.4 L360.7,242.1"/><path d="M342.4,264.0 L357.0,262.2 L368.0,258.5 L379.0,255.8 L389.0,254.9 L395.5,251.2"/><path d="M397.2,212.8 L396.3,236.6 L395.4,251.2"/><path d="M389.0,254.9 L389.9,276.8 L391.8,295.1 L379.0,296.9 L371.7,299.7 L369.8,311.0 L368.0,321.9 L366.2,331.1"/><path d="M263.8,302.4 L276.6,298.7 L283.9,300.6 L291.2,304.2 L294.9,309.7"/><path d="M351.5,280.5 L344.2,284.1 L338.7,291.4 L335.1,298.7 L331.4,302.4 L329.6,311.0 L325.9,320.1 L324.1,327.4 L329.6,332.9 L338.7,331.1 L349.7,332.0 L357.0,333.8 L366.2,331.1 L375.3,327.4 L384.4,325.6 L400.0,325.6"/><path d="M395.5,251.2 L404.6,253.0 L411.9,254.9 L417.4,262.2 L420.2,265.8"/><path d="M428.4,213.7 L427.5,229.3 L424.7,245.7 L421.1,258.5 L420.2,265.8"/><path d="M420.2,265.8 L422.9,273.1 L419.3,282.3 L417.4,287.8 L408.3,293.3 L397.3,295.1 L391.8,295.1"/><path d="M439.4,214.6 L441.2,229.3 L444.9,236.6 L444.9,249.4"/><path d="M444.9,249.4 L439.4,251.2 L432.1,254.9 L426.6,258.5 L422.9,262.2"/><path d="M444.9,249.4 L459.5,244.8 L472.3,243.9 L479.6,245.7"/><path d="M459.5,223.8 L460.4,236.6 L459.5,244.8"/><path d="M479.6,245.7 L480.5,236.6 L485.1,232.9 L490.6,231.1 L501.5,234.7"/><path d="M479.6,245.7 L479.6,260.3 L477.8,276.8 L475.9,285.9 L477.8,289.6 L485.1,298.7 L488.7,306.0"/><path d="M444.9,254.9 L450.3,262.2 L452.2,269.5 L450.3,280.5 L448.5,291.4 L443.0,298.7"/><path d="M452.2,269.5 L463.1,269.5 L472.3,270.4 L475.9,276.8"/><path d="M417.4,287.8 L424.7,295.1 L428.4,302.4 L428.4,310.0 L426.6,309.1"/><path d="M428.4,302.4 L441.2,299.7 L452.2,299.7 L463.1,296.9 L472.3,291.4 L477.8,289.6 L486.9,287.8 L499.7,285.9 L507.0,285.9 L518.0,284.1 L525.3,282.3"/><path d="M455.8,299.7 L456.7,311.0 L459.5,320.1 L463.1,323.8"/><path d="M503.4,218.3 L501.5,234.7 L499.7,251.2 L501.5,269.5 L499.7,285.9"/><path d="M510.7,225.6 L512.5,243.9 L516.2,260.3 L518.0,276.8 L521.7,282.3 L525.3,284.1"/><path d="M525.3,282.3 L523.5,295.1 L521.7,310.0"/><path d="M536.3,227.4 L539.9,236.6 L547.3,243.9 L549.1,247.9 L554.6,258.9 L560.1,268.0 L567.4,277.2 L574.7,288.1 L578.4,290.9"/><path d="M550.0,251.2 L539.9,253.0 L536.3,260.3 L536.3,276.8 L543.6,280.5 L549.1,277.2 L558.3,279.0 L567.4,288.1 L574.7,290.9"/><path d="M539.9,278.6 L541.8,291.4 L545.4,302.4 L547.6,309.6"/><path d="M554.6,224.1 L563.8,231.5 L571.1,235.1 L574.7,242.4"/><path d="M574.7,242.4 L583.9,239.7 L593.0,238.8 L594.9,247.9"/><path d="M574.7,242.4 L573.8,251.6 L576.6,258.9 L578.4,266.2 L579.3,277.2 L577.5,284.5 L578.4,290.9"/><path d="M605.8,235.1 L598.5,242.4 L594.9,249.7 L593.0,260.7 L593.9,271.7 L596.7,280.8 L602.2,286.3 L607.7,290.0"/><path d="M607.7,290.0 L613.1,284.5 L620.5,282.7 L627.8,286.3 L633.3,288.1 L638.7,291.8 L642.0,294.8 L646.0,296.4 L650.8,295.6 L655.6,297.2 L658.0,299.6 L656.4,302.8 L658.8,305.2 L663.6,307.6 L665.6,312.0"/><path d="M629.6,251.6 L633.3,258.9 L635.1,269.9 L631.4,279.0 L633.3,284.5 L638.7,288.1"/><path d="M638.7,284.5 L646.1,280.8 L653.4,275.3 L660.7,269.9 L662.5,262.5 L660.7,257.1 L664.3,253.4"/><path d="M643.6,287.0 L650.3,285.4 L657.0,285.4 L663.8,287.0 L672.1,285.4 L678.9,287.0 L680.5,290.4"/><path d="M607.7,290.0 L605.8,297.3 L609.5,306.4 L607.7,313.7 L608.4,314.4"/><path d="M604.0,291.8 L596.7,299.1 L591.2,308.3 L585.7,317.4 L582.8,317.6 L576.4,330.4 L574.8,336.8 L574.8,344.8"/><path d="M578.4,290.9 L585.7,293.6 L594.9,295.5 L602.2,291.8"/><path d="M574.7,291.8 L569.3,299.1 L567.4,306.4 L561.9,310.1 L554.6,310.1 L547.3,306.4 L543.7,301.0"/><path d="M567.4,306.4 L568.4,312.8 L571.6,319.2 L573.2,332.0 L574.0,340.0 L574.8,344.8"/><path d="M608.4,314.4 L619.7,314.4 L629.3,317.6 L633.2,322.0 L638.0,325.2"/><path d="M263.8,300.0 L261.9,311.0 L261.0,323.8 L263.8,329.3 L269.3,334.7 L272.9,340.2 L271.1,347.5 L269.3,358.5 L266.5,373.1 L263.8,385.9 L261.0,396.9 L260.1,406.0"/><path d="M240.0,333.8 L247.3,336.6"/><path d="M283.9,300.0 L293.0,307.3 L302.2,308.2 L311.3,312.8 L315.0,320.1 L316.8,329.3 L318.6,329.3 L324.1,332.9"/><path d="M272.9,340.2 L283.9,342.1 L293.0,345.7 L300.3,343.9 L309.5,342.1 L315.0,336.6 L316.8,329.3"/><path d="M283.9,342.1 L283.9,354.9 L283.0,369.5 L287.5,373.1 L293.0,375.0 L294.9,380.5 L289.4,387.8 L287.5,391.4 L289.0,398.0"/><path d="M309.5,342.1 L313.1,347.5 L314.1,354.9 L313.1,373.1 L311.3,385.9 L310.4,396.0"/><path d="M355.2,334.7 L357.0,347.5 L358.9,364.0 L360.7,376.8 L362.5,396.0"/><path d="M368.0,331.1 L366.2,343.9 L368.0,353.0 L375.3,356.7 L386.3,356.7 L390.0,358.5 L401.9,356.7"/><path d="M240.0,376.8 L247.3,384.1"/><path d="M428.4,310.0 L426.6,309.1 L424.7,316.5 L421.1,321.9 L415.6,325.6 L408.3,327.4 L399.1,325.6 L390.0,324.7"/><path d="M421.1,321.9 L432.1,327.4 L439.4,331.1 L444.9,329.3 L454.0,325.6 L461.3,323.8 L466.8,321.9 L470.5,327.4 L473.2,336.6"/><path d="M439.4,331.1 L438.5,342.1 L444.9,349.4 L452.2,354.9 L459.5,358.5 L466.8,354.9 L472.3,353.0"/><path d="M401.0,327.4 L402.8,340.2 L401.0,347.5 L401.9,356.7 L401.0,364.0 L402.8,373.1 L401.0,384.1 L397.3,393.3 L393.7,398.7"/><path d="M402.8,373.1 L411.9,375.0 L422.9,376.8 L433.9,380.5"/><path d="M433.9,380.5 L439.4,373.1 L444.9,369.5 L454.0,364.0 L459.5,358.5"/><path d="M433.9,380.5 L432.1,391.4 L433.9,398.7 L436.0,402.0"/><path d="M473.2,336.6 L472.3,347.5 L474.1,354.9 L477.8,362.2 L479.6,369.5 L488.7,371.3 L485.1,378.6 L479.6,384.1 L477.8,395.1 L479.6,406.0"/><path d="M473.2,336.6 L481.4,338.4 L490.6,337.5 L499.7,339.3 L508.9,336.6 L514.3,332.9 L518.0,329.3 L525.3,336.6 L530.8,347.5"/><path d="M466.8,321.9 L472.3,318.3 L481.4,314.6 L488.7,309.1 L492.4,305.5 L488.7,300.0"/><path d="M492.4,305.5 L499.7,311.0 L507.0,314.6 L510.7,320.1 L514.3,329.3"/><path d="M499.7,311.0 L508.9,307.3 L518.0,301.8 L521.7,310.0"/><path d="M488.7,371.3 L494.2,373.1 L499.7,373.1 L503.4,369.5 L505.2,360.3 L507.0,354.9 L518.0,352.1 L527.1,351.2 L530.8,347.5"/><path d="M530.8,347.5 L533.2,348.0 L538.0,351.2 L544.4,357.6 L546.0,362.4 L554.0,367.2 L562.0,370.4 L571.6,373.6 L582.8,376.8 L592.4,380.0 L598.8,381.7 L603.6,384.9"/><path d="M530.8,347.5 L525.3,354.9 L521.7,364.0 L519.8,373.1 L518.0,378.6 L523.5,382.3 L527.1,389.6 L532.6,395.1 L536.3,402.4"/><path d="M518.0,378.6 L527.1,375.0 L532.6,376.8 L536.3,384.1"/><path d="M541.8,300.0 L543.6,311.0 L545.4,321.9 L541.8,329.3 L539.9,338.4 L536.3,343.9 L530.8,347.5"/><path d="M547.6,309.6 L557.2,306.4 L566.8,304.8 L568.4,300.0"/><path d="M566.8,304.8 L568.4,312.8"/><path d="M574.8,344.8 L582.8,343.2 L590.8,344.8 L595.6,348.0 L600.4,346.4 L603.6,351.2 L608.4,356.0 L614.9,360.8 L619.7,364.0"/><path d="M608.4,300.0 L608.4,309.6 L606.8,319.2 L600.4,325.6 L597.2,332.0 L594.0,340.0 L590.8,344.8"/><path d="M574.8,344.8 L573.2,351.2 L566.8,354.4 L558.8,356.0 L552.4,356.0 L547.6,359.2 L546.0,362.4"/><path d="M554.0,367.2 L555.6,373.6 L560.4,380.0 L565.2,386.5 L568.4,392.9 L571.6,396.1"/><path d="M530.0,375.2 L533.2,378.4 L536.4,389.7 L541.2,396.1 L544.4,400.9"/></g>
<path d="M145.3,215.1 L148.6,210.0 L157.0,205.0 L168.7,202.0 L185.7,202.7 L202.9,207.0 L218.3,211.3 L237.0,212.0 L250.3,210.1 L260.6,211.3 L272.6,209.1 L282.9,212.1 L294.9,215.6 L305.1,216.4 L306.9,213.0 L315.4,210.8 L329.1,209.1 L342.9,211.3 L349.7,212.1 L360.0,211.3 L370.3,213.9 L384.0,216.4 L390.3,217.6 L396.3,212.1 L407.4,209.6 L416.0,211.3 L429.7,213.0 L440.0,215.2 L453.7,215.2 L465.7,218.1 L470.5,219.7 L478.8,219.3 L482.9,215.6 L486.0,216.6 L487.0,220.7 L491.1,223.8 L495.2,222.8 L499.3,219.7 L501.4,216.6 L503.5,217.6 L504.5,222.8 L506.5,225.9 L509.6,227.9 L513.7,231.0 L515.8,230.0 L511.7,223.8 L507.6,219.7 L506.5,216.6 L511.7,217.6 L519.9,220.7 L528.1,222.8 L536.4,224.8 L544.6,225.9 L550.8,221.8 L561.1,223.7 L581.7,224.7 L592.0,228.8 L608.5,232.9 L616.7,237.0 L627.0,237.0 L636.8,246.8 L646.0,246.8 L660.3,256.0 L669.2,252.7 L672.0,250.6 L680.2,247.9 L682.3,246.5 L681.6,252.0 L677.5,257.5 L675.4,264.3 L676.8,271.2 L677.5,278.1 L678.2,284.9 L678.0,291.6 L682.0,294.8 L686.0,299.6 L689.2,304.4 L690.0,306.0 L687.6,307.6 L684.4,309.2 L681.2,307.6 L678.0,306.8 L677.2,310.0 L677.2,314.0 L674.8,316.4 L670.0,317.2 L666.8,315.6 L664.4,314.0 L660.4,314.8 L657.2,316.4 L654.8,319.6 L652.4,321.2 L649.2,321.2 L646.8,319.6 L643.6,322.0 L640.4,324.4 L638.0,327.6 L634.8,331.6 L631.6,334.8 L626.0,344.7 L620.5,355.7 L617.8,365.3 L612.3,369.4 L606.8,372.1 L606.8,380.3 L604.0,384.5 L595.8,387.2 L587.6,391.3 L578.0,395.4 L571.1,396.8 L564.3,398.9 L560.0,398.3 L551.8,397.4 L542.6,399.3 L533.5,402.0 L524.3,402.9 L513.4,406.6 L502.4,410.2 L495.1,413.9 L487.8,410.2 L482.3,405.7 L476.8,403.8 L469.5,408.4 L462.2,409.3 L453.0,409.3 L447.5,406.6 L442.0,402.9 L432.9,399.3 L423.8,405.7 L416.5,410.2 L407.3,407.5 L401.8,403.0 L392.6,395.7 L383.5,393.8 L374.3,395.7 L363.4,397.5 L354.2,401.1 L345.1,402.0 L335.9,401.1 L330.5,395.7 L323.1,396.6 L315.8,399.3 L308.5,396.6 L301.2,395.7 L293.9,392.9 L288.4,394.7 L282.9,398.4 L271.9,402.0 L260.0,405.0 L250.7,409.0 L238.8,409.0 L228.9,411.0 L219.0,409.0 L209.0,406.0 L195.2,404.0 L183.3,401.0 L175.3,403.0 L167.4,407.0 L159.5,407.0 L145.6,405.0 L139.7,409.0 L136.7,412.9 L131.7,407.0 L129.7,401.0 L131.7,389.1 L143.6,385.2 L141.6,381.2 L131.7,375.3 L136.7,365.3 L135.7,355.4 L139.7,341.5 L140.6,329.7 L142.6,327.7 L146.6,313.8 L142.6,301.9 L138.6,290.6 L133.5,285.5 L126.8,280.5 L122.6,278.8 L120.1,273.8 L115.9,265.4 L111.7,260.4 L110.1,256.2 L112.6,252.8 L121.8,251.2 L133.5,245.3 L145.3,239.4 L149.5,236.1 L148.6,230.2 L146.1,221.8 Z" fill="none" stroke="#000" stroke-width="2" stroke-linejoin="round"/>
<g fill="none" stroke="#000" stroke-width="1.6" stroke-linecap="round" stroke-linejoin="round"><path d="M364.7,432.5 L368,429.5 L370.5,426.5 L372.8,424.3 L371,425.8 L369.5,428"/><path d="M447,411.7 L453,414 L459,416.1 L465,418 L470.9,419.9"/><path d="M473.9,415.4 L478,412.5 L482.8,409.5"/><path d="M684,245.5 L687,247 L690,249.5"/></g><g fill="#000"><circle cx="391.4" cy="415.4" r="1.1"/><circle cx="416" cy="417.6" r="0.9"/><circle cx="422.6" cy="415.4" r="0.9"/><circle cx="427" cy="415.7" r="0.9"/><circle cx="438.2" cy="415.4" r="0.9"/><circle cx="683" cy="243" r="1"/><circle cx="680.9" cy="265.7" r="1.1"/><circle cx="683.6" cy="274.6" r="1"/><circle cx="691" cy="297.3" r="0.9"/><circle cx="685.5" cy="310.5" r="1.1"/><circle cx="687.6" cy="312.4" r="1"/><circle cx="641.2" cy="331.6" r="1.2"/><circle cx="654" cy="322.8" r="1.1"/><circle cx="187" cy="404.3" r="0.8"/><circle cx="272" cy="395" r="0.8"/><circle cx="276" cy="396.5" r="0.8"/><circle cx="291" cy="396" r="0.8"/><circle cx="296" cy="398" r="0.8"/><circle cx="313.2" cy="405.7" r="0.8"/><circle cx="329.6" cy="404.3" r="0.8"/></g>
<rect x="99.5" y="171.5" width="593" height="290" fill="none" stroke="#262626" stroke-width="1"/>
<g stroke="#262626" stroke-width="1"><line x1="134.5" y1="461" x2="134.5" y2="455"/><line x1="134.5" y1="171" x2="134.5" y2="177"/><line x1="203.5" y1="461" x2="203.5" y2="455"/><line x1="203.5" y1="171" x2="203.5" y2="177"/><line x1="272.5" y1="461" x2="272.5" y2="455"/><line x1="272.5" y1="171" x2="272.5" y2="177"/><line x1="341.5" y1="461" x2="341.5" y2="455"/><line x1="341.5" y1="171" x2="341.5" y2="177"/><line x1="410.5" y1="461" x2="410.5" y2="455"/><line x1="410.5" y1="171" x2="410.5" y2="177"/><line x1="480.5" y1="461" x2="480.5" y2="455"/><line x1="480.5" y1="171" x2="480.5" y2="177"/><line x1="549.5" y1="461" x2="549.5" y2="455"/><line x1="549.5" y1="171" x2="549.5" y2="177"/><line x1="618.5" y1="461" x2="618.5" y2="455"/><line x1="618.5" y1="171" x2="618.5" y2="177"/><line x1="687.5" y1="461" x2="687.5" y2="455"/><line x1="687.5" y1="171" x2="687.5" y2="177"/><line x1="99" y1="171.5" x2="105" y2="171.5"/><line x1="692" y1="171.5" x2="686" y2="171.5"/><line x1="99" y1="244.5" x2="105" y2="244.5"/><line x1="692" y1="244.5" x2="686" y2="244.5"/><line x1="99" y1="316.5" x2="105" y2="316.5"/><line x1="692" y1="316.5" x2="686" y2="316.5"/><line x1="99" y1="389.5" x2="105" y2="389.5"/><line x1="692" y1="389.5" x2="686" y2="389.5"/><line x1="99" y1="461.5" x2="105" y2="461.5"/><line x1="692" y1="461.5" x2="686" y2="461.5"/></g>
<g><text x="134.5" y="490.6" text-anchor="middle" font-size="20.6" font-weight="normal">-67.2</text><text x="203.62500000000097" y="490.6" text-anchor="middle" font-size="20.6" font-weight="normal">-67</text><text x="272.75000000000193" y="490.6" text-anchor="middle" font-size="20.6" font-weight="normal">-66.8</text><text x="341.87500000000296" y="490.6" text-anchor="middle" font-size="20.6" font-weight="normal">-66.6</text><text x="410.99999999999903" y="490.6" text-anchor="middle" font-size="20.6" font-weight="normal">-66.4</text><text x="480.125" y="490.6" text-anchor="middle" font-size="20.6" font-weight="normal">-66.2</text><text x="549.2500000000009" y="490.6" text-anchor="middle" font-size="20.6" font-weight="normal">-66</text><text x="618.375000000002" y="490.6" text-anchor="middle" font-size="20.6" font-weight="normal">-65.8</text><text x="687.500000000003" y="490.6" text-anchor="middle" font-size="20.6" font-weight="normal">-65.6</text><text x="91" y="179.0" text-anchor="end" font-size="20.6" font-weight="normal">18.6</text><text x="91" y="251.50000000000102" text-anchor="end" font-size="20.6" font-weight="normal">18.4</text><text x="91" y="324.0000000000008" text-anchor="end" font-size="20.6" font-weight="normal">18.2</text><text x="91" y="396.5000000000005" text-anchor="end" font-size="20.6" font-weight="normal">18</text><text x="91" y="469.0000000000003" text-anchor="end" font-size="20.6" font-weight="normal">17.8</text></g>
<rect x="728.5" y="170.5" width="31.5" height="290.5" fill="url(#cb)" stroke="#262626" stroke-width="1"/>
<g stroke="#262626" stroke-width="1"><line x1="760" y1="237.3" x2="757.5" y2="237.3"/><line x1="760" y1="305.4" x2="757.5" y2="305.4"/><line x1="760" y1="373.5" x2="757.5" y2="373.5"/><line x1="760" y1="441.6" x2="757.5" y2="441.6"/></g>
<text x="769.3" y="243.9" text-anchor="start" font-size="18.3" font-weight="normal">26</text><text x="769.3" y="312.0" text-anchor="start" font-size="18.3" font-weight="normal">24</text><text x="769.3" y="380.1" text-anchor="start" font-size="18.3" font-weight="normal">22</text><text x="769.3" y="448.20000000000005" text-anchor="start" font-size="18.3" font-weight="normal">20</text>
<text x="396.5" y="161.8" text-anchor="middle" font-size="23.1" font-weight="bold" fill="#000">AVERAGE AIR TEMPERATURE (C) 06-Nov-2025</text>
<text x="397" y="521.7" text-anchor="middle" font-size="22.6">Longitude</text>
<text transform="translate(37.8,315.9) rotate(-90)" text-anchor="middle" font-size="22.6">Latitude</text>
</svg>
</body></html>
